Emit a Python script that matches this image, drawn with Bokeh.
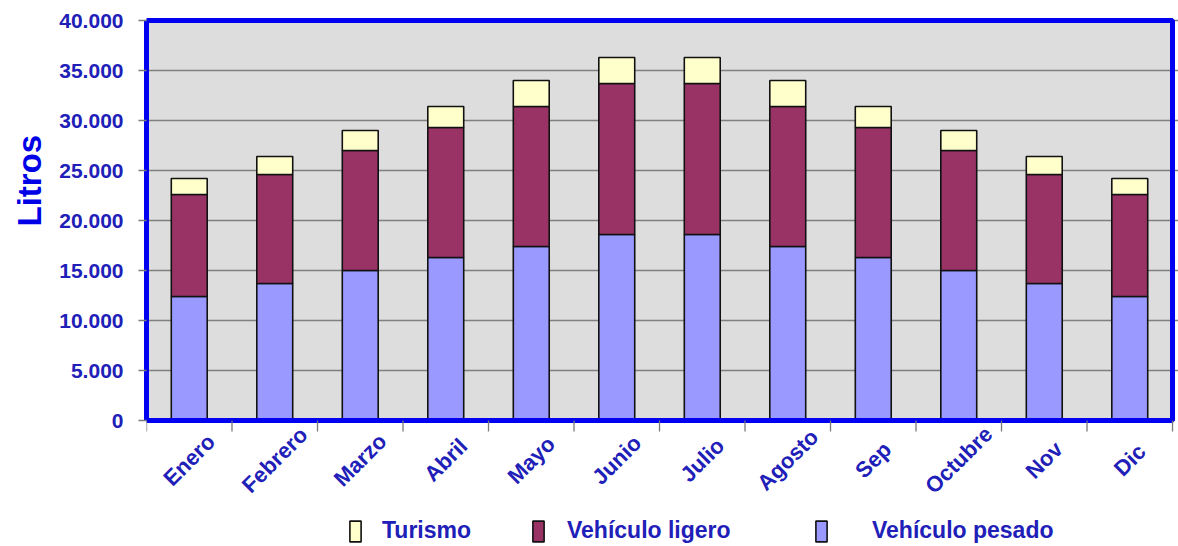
import math

from bokeh.plotting import figure
from bokeh.models import (ColumnDataSource, Range1d, FixedTicker, Legend,
                          LegendItem, Title)
from bokeh.core.properties import value
from bokeh.embed import file_html
from bokeh.resources import INLINE

# Monthly fuel consumption (litres) by vehicle type
months = ["Enero", "Febrero", "Marzo", "Abril", "Mayo", "Junio",
          "Julio", "Agosto", "Sep", "Octubre", "Nov", "Dic"]
pesado = [12400, 13700, 15000, 16300, 17400, 18600,
          18600, 17400, 16300, 15000, 13700, 12400]
ligero = [10200, 10900, 12000, 13000, 14000, 15100,
          15100, 14000, 13000, 12000, 10900, 10200]
turismo = [1600, 1800, 2000, 2100, 2600, 2600,
           2600, 2600, 2100, 2000, 1800, 1600]

series = ["pesado", "ligero", "turismo"]
series_names = ["Vehículo pesado", "Vehículo ligero", "Turismo"]
series_colors = ["#9999FF", "#993366", "#FFFFCC"]

y_ticks = [0, 5000, 10000, 15000, 20000, 25000, 30000, 35000, 40000]
y_tick_labels = ["0", "5.000", "10.000", "15.000", "20.000",
                 "25.000", "30.000", "35.000", "40.000"]

FONT = "Liberation Sans"
TEXT_BLUE = "#2020B8"
FRAME_BLUE = "#0000F0"
TICK_GREY = "#7A7A7A"

n = len(months)
y_min, y_max = y_ticks[0], y_ticks[-1]

source = ColumnDataSource(dict(
    x=[i + 0.5 for i in range(n)],
    month=months,
    pesado=pesado,
    ligero=ligero,
    turismo=turismo,
))
bounds = ColumnDataSource(dict(x=list(range(n + 1))))

# the frame runs down to the bottom edge so the month names and the
# legend can sit underneath the plotting area
p = figure(
    width=1178, height=546,
    x_range=Range1d(0, n + 0.07), y_range=Range1d(-12600, y_max + 500),
    output_backend="svg", toolbar_location=None,
    min_border_left=146, min_border_right=0,
    min_border_top=15, min_border_bottom=0,
    background_fill_color="white", border_fill_color="white",
)
p.outline_line_color = None
p.xaxis.visible = False

# grey plotting area
p.quad(left=0, right=n, bottom=y_min, top=y_max,
       fill_color="#DDDDDD", line_color=None, level="image")

p.xgrid.visible = False
p.ygrid.ticker = FixedTicker(ticks=y_ticks[1:])
p.ygrid.bounds = (0, n)
p.ygrid.grid_line_color = "#808080"
p.ygrid.grid_line_width = 1.3

bars = p.vbar_stack(series, x="x", width=0.42, source=source,
                    fill_color=series_colors, line_color="#111111",
                    line_width=1.6)

# blue frame round the plotting area
p.quad(left=0, right=n, bottom=y_min, top=y_max,
       fill_color=None, line_color=FRAME_BLUE, line_width=5)

# y axis
yax = p.yaxis[0]
yax.bounds = (y_min, y_max)
yax.ticker = FixedTicker(ticks=y_ticks)
yax.major_label_overrides = dict(zip(y_ticks, y_tick_labels))
yax.major_label_text_font = FONT
yax.major_label_text_font_style = "bold"
yax.major_label_text_font_size = "21px"
yax.major_label_text_color = TEXT_BLUE
yax.major_label_standoff = 15
yax.major_tick_out = 8
yax.major_tick_in = 0
yax.major_tick_line_color = TICK_GREY
yax.major_tick_line_width = 1.3
yax.minor_tick_line_color = None
yax.axis_line_color = FRAME_BLUE
yax.axis_line_width = 5

p.add_layout(Title(text="Litros", align="left", offset=320, standoff=17,
                   text_font=FONT, text_font_style="bold",
                   text_font_size="33px", text_color="#0000E6"), "left")

# tick marks between the months, below the blue base line
p.segment(x0="x", y0=y_min, x1="x", y1=y_min - 1100, source=bounds,
          line_color=TICK_GREY, line_width=1.3)

# month names, turned 45 degrees
p.text(x="x", y=y_min - 3950, text="month", source=source,
       angle=math.pi / 4, text_align="center", text_baseline="middle",
       text_font=value(FONT), text_font_style="bold", text_font_size="22px",
       text_color=TEXT_BLUE)

# legend entries along the bottom
legend_spots = {"turismo": (202, 20), "ligero": (385, 22), "pesado": (668, 44)}
for key, name, rend in zip(series, series_names, bars):
    loc_x, standoff = legend_spots[key]
    leg = Legend(
        items=[LegendItem(label=name, renderers=[rend])],
        location=(loc_x, 2), orientation="horizontal",
        glyph_width=14, glyph_height=26, label_standoff=standoff,
        padding=0, margin=0, spacing=0,
        border_line_color=None, background_fill_alpha=0,
        label_text_font=FONT, label_text_font_style="bold",
        label_text_font_size="23px", label_text_color=TEXT_BLUE,
        label_text_baseline="middle",
    )
    p.add_layout(leg)

open("out.html", "w").write(file_html(p, INLINE))
